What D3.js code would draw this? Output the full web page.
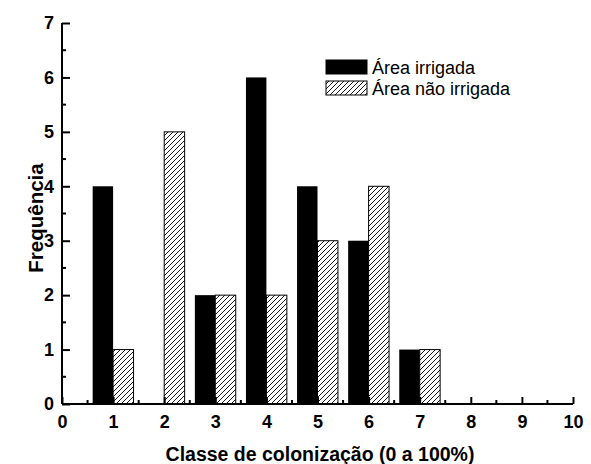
<!DOCTYPE html>
<html lang="pt">
<head>
    <meta charset="utf-8">
    <title>Frequência</title>
    <script src="https://d3js.org/d3.v7.min.js" charset="utf-8"></script>
    <style>
        body { margin: 0; background: #fff; }
        .axis path, .axis line { fill: none; stroke: black; stroke-width: 2; }
        .axis text { font-family: "Liberation Sans", Arial, sans-serif; font-size: 18px; font-weight: bold; fill: black; }
        .title { font-family: "Liberation Sans", Arial, sans-serif; font-weight: bold; }
        .legend text { font-family: "Liberation Sans", Arial, sans-serif; font-size: 18px; }
    </style>
</head>
<body>
<script>
    var classes = [1, 2, 3, 4, 5, 6, 7]
    var irrigada = [4, 0, 2, 6, 4, 3, 1]
    var naoIrrigada = [1, 5, 2, 2, 3, 4, 1]
    var seriesNames = ["Área irrigada", "Área não irrigada"]
    var xTicks = [0, 1, 2, 3, 4, 5, 6, 7, 8, 9, 10]
    var yTicks = [0, 1, 2, 3, 4, 5, 6, 7]

    var w = 591, h = 464
    var barW = 0.4

    var svg = d3.select("body").append("svg").attr("width", w).attr("height", h)

    var defs = svg.append("defs")
    var pat = defs.append("pattern").attr("id", "hatch")
        .attr("patternUnits", "userSpaceOnUse").attr("width", 5).attr("height", 5)
    pat.append("rect").attr("width", 5).attr("height", 5).attr("fill", "white")
    pat.append("path").attr("d", "M-1,1 l2,-2 M0,5 l5,-5 M4,6 l2,-2")
        .attr("stroke", "black").attr("stroke-width", 0.9)

    var xScale = d3.scaleLinear().domain([0, 10]).range([62, 573])
    var yScale = d3.scaleLinear().domain([0, 7]).range([404, 23])

    // bars
    svg.selectAll(".b1").data(classes).enter().append("rect")
        .attr("x", function (d) { return xScale(d - barW) })
        .attr("width", function (d) { return xScale(d) - xScale(d - barW) })
        .attr("y", function (d, i) { return yScale(irrigada[i]) })
        .attr("height", function (d, i) { return yScale(0) - yScale(irrigada[i]) })
        .attr("fill", "black")

    svg.selectAll(".b2").data(classes).enter().append("rect")
        .attr("x", function (d) { return xScale(d) })
        .attr("width", function (d) { return xScale(d + barW) - xScale(d) })
        .attr("y", function (d, i) { return yScale(naoIrrigada[i]) })
        .attr("height", function (d, i) { return yScale(0) - yScale(naoIrrigada[i]) })
        .attr("fill", "url(#hatch)").attr("stroke", "black").attr("stroke-width", 1)

    // axes, ticks point inward
    var xAxis = d3.axisBottom(xScale).tickValues(xTicks).tickFormat(d3.format("d")).tickSize(-7).tickPadding(11)
    var yAxis = d3.axisLeft(yScale).tickValues(yTicks).tickFormat(d3.format("d")).tickSize(-8).tickPadding(8)

    var gx = svg.append("g").attr("class", "axis").attr("transform", "translate(0," + yScale(0) + ")").call(xAxis)
    var gy = svg.append("g").attr("class", "axis").attr("transform", "translate(" + xScale(0) + ",0)").call(yAxis)
    gx.select(".domain").attr("d", "M" + xScale(0) + ",0H" + xScale(10))
    gy.select(".domain").attr("d", "M0," + yScale(0) + "V" + yScale(7))

    // minor ticks
    gx.selectAll(".minor").data(d3.range(0.5, 10, 1)).enter().append("line")
        .attr("x1", function (d) { return xScale(d) }).attr("x2", function (d) { return xScale(d) })
        .attr("y1", 0).attr("y2", -4)
    gy.selectAll(".minor").data(d3.range(0.5, 7, 1)).enter().append("line")
        .attr("y1", function (d) { return yScale(d) }).attr("y2", function (d) { return yScale(d) })
        .attr("x1", 0).attr("x2", 4)

    // titles
    svg.append("text").attr("class", "title").attr("x", 320).attr("y", 461)
        .attr("font-size", "19.5px")
        .attr("text-anchor", "middle").text("Classe de colonização (0 a 100%)")
    svg.append("text").attr("class", "title").attr("font-size", "20.5px")
        .attr("transform", "translate(43,218) rotate(-90)")
        .attr("text-anchor", "middle").text("Frequência")

    // legend
    var legend = svg.append("g").attr("class", "legend")
    var fills = ["black", "url(#hatch)"]
    seriesNames.forEach(function (name, i) {
        legend.append("rect").attr("x", 326).attr("y", 60 + i * 21).attr("width", 41).attr("height", 14)
            .attr("fill", fills[i]).attr("stroke", "black").attr("stroke-width", 1)
        legend.append("text").attr("x", 372).attr("y", 74 + i * 21).text(name)
    })
</script>
</body>
</html>
